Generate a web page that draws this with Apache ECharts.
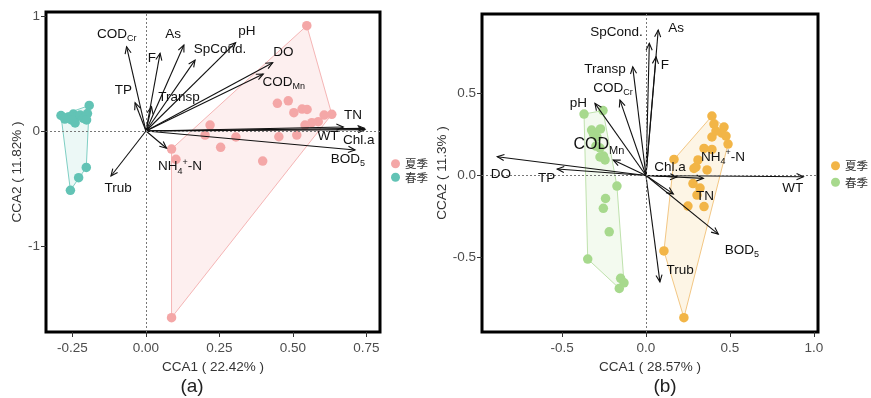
<!DOCTYPE html>
<html><head><meta charset="utf-8">
<script src="https://cdn.jsdelivr.net/npm/echarts@6/dist/echarts.min.js"></script>
<style>html,body{margin:0;padding:0;background:#fff}#c{width:871px;height:398px}</style>
</head><body><div id="c"></div>
<script>
// ---------- Panel (a) ----------
const seasons = ['夏季', '春季'];
const summerA = [[0.547,0.916],[0.447,0.241],[0.484,0.263],[0.503,0.159],[0.531,0.191],[0.548,0.187],
  [0.632,0.145],[0.606,0.139],[0.586,0.081],[0.564,0.072],[0.541,0.052],[0.513,-0.035],[0.452,-0.050],
  [0.218,0.052],[0.201,-0.035],[0.306,-0.052],[0.254,-0.142],[0.397,-0.261],[0.087,-0.157],[0.102,-0.246],
  [0.087,-1.623]];
const springA = [[-0.193,0.222],[-0.289,0.135],[-0.264,0.122],[-0.247,0.148],[-0.236,0.124],[-0.224,0.139],
  [-0.213,0.110],[-0.199,0.152],[-0.202,0.096],[-0.241,0.070],[-0.253,0.096],[-0.276,0.104],
  [-0.203,-0.317],[-0.229,-0.406],[-0.257,-0.516]];
const envNamesA = ['COD_Cr','TP','F','As','SpCond.','Transp','pH','DO','COD_Mn','TN','WT','Chl.a','BOD5','NH4+-N','Trub'];
const envA = [[-0.066,0.733],[-0.037,0.246],[0.048,0.676],[0.129,0.748],[0.167,0.617],[0.019,0.211],
  [0.305,0.768],[0.431,0.594],[0.399,0.496],[0.743,0.023],[0.671,0.035],[0.745,0.012],[0.711,-0.165],
  [0.070,-0.150],[-0.119,-0.391]];
const envLabelAtA = [[-0.099,0.843],[-0.077,0.350],[0.020,0.635],[0.092,0.843],[0.252,0.713],[0.112,0.296],
  [0.343,0.863],[0.467,0.681],[0.469,0.426],[0.704,0.139],[0.619,-0.050],[0.724,-0.078],[0.687,-0.243],
  [0.116,-0.310],[-0.095,-0.496]];
const xTicksA = [-0.25, 0, 0.25, 0.5, 0.75];
const yTicksA = [-1, 0, 1];
const axisNamesA = ['CCA1 ( 22.42% )', 'CCA2 ( 11.82% )'];

// ---------- Panel (b) ----------
const summerB = [[0.393,0.363],[0.405,0.314],[0.465,0.296],[0.453,0.259],[0.477,0.241],[0.393,0.235],
  [0.417,0.271],[0.489,0.192],[0.346,0.165],[0.393,0.159],[0.167,0.098],[0.310,0.095],[0.298,0.052],
  [0.286,0.043],[0.364,0.034],[0.280,-0.049],[0.322,-0.076],[0.304,-0.119],[0.250,-0.186],[0.346,-0.189],
  [0.107,-0.460],[0.226,-0.867]];
const springB = [[-0.369,0.375],[-0.256,0.396],[-0.324,0.277],[-0.271,0.284],[-0.313,0.253],[-0.292,0.235],
  [-0.298,0.180],[-0.274,0.168],[-0.253,0.119],[-0.274,0.113],[-0.244,0.095],[-0.173,-0.064],[-0.241,-0.140],
  [-0.254,-0.200],[-0.219,-0.343],[-0.347,-0.509],[-0.151,-0.627],[-0.131,-0.654],[-0.159,-0.688]];
const envNamesB = ['SpCond.','As','F','Transp','COD_Cr','pH','COD_Mn','DO','TP','Chl.a','NH4+-N','WT','TN','BOD5','Trub'];
const envB = [[0.020,0.806],[0.073,0.887],[0.060,0.724],[-0.079,0.663],[-0.155,0.460],[-0.304,0.440],
  [-0.195,0.095],[-0.886,0.115],[-0.529,0.040],[0.185,-0.009],[0.342,-0.017],[0.938,-0.007],[0.163,-0.112],
  [0.431,-0.357],[0.083,-0.648]];
const envLabelAtB = [[-0.175,0.873],[0.179,0.898],[0.113,0.674],[-0.244,0.649],[-0.197,0.534],[-0.403,0.440],
  [-0.280,0.186],[-0.864,0.007],[-0.592,-0.017],[0.143,0.050],[0.459,0.111],[0.874,-0.078],[0.352,-0.129],
  [0.572,-0.454],[0.203,-0.580]];
const xTicksB = [-0.5, 0, 0.5, 1.0];
const yTicksB = [-0.5, 0, 0.5];
const axisNamesB = ['CCA1 ( 28.57% )', 'CCA2 ( 11.3% )'];

// ---------- styling ----------
const FONT = '"Liberation Sans", Arial, sans-serif';
const colA = {s: '#F4A7A7', w: '#62C3B5', sFill: 'rgba(244,167,167,0.18)', wFill: 'rgba(98,195,181,0.12)', sLine: '#F5B5B5', wLine: '#7FCFC4'};
const colB = {s: '#F2B547', w: '#A7D98D', sFill: 'rgba(242,181,71,0.14)', wFill: 'rgba(167,217,141,0.14)', sLine: '#F3C784', wLine: '#BFE2AD'};
const bigLabelB = {'COD_Mn': 16};

function richText(name) {
  const map = {'COD_Cr': 'COD{s|Cr}', 'COD_Mn': 'COD{s|Mn}', 'BOD5': 'BOD{s|5}', 'NH4+-N': 'NH{s|4}{p|+}-N'};
  return map[name] || name;
}

function hull(pts) {
  const p = pts.slice().sort((a, b) => a[0] - b[0] || a[1] - b[1]);
  const cross = (o, a, b) => (a[0]-o[0])*(b[1]-o[1]) - (a[1]-o[1])*(b[0]-o[0]);
  const lo = [], up = [];
  for (const q of p) { while (lo.length >= 2 && cross(lo[lo.length-2], lo[lo.length-1], q) <= 0) lo.pop(); lo.push(q); }
  for (let i = p.length - 1; i >= 0; i--) { const q = p[i]; while (up.length >= 2 && cross(up[up.length-2], up[up.length-1], q) <= 0) up.pop(); up.push(q); }
  up.pop(); lo.pop();
  return lo.concat(up);
}

function hullSeries(pts, fill, stroke, gi) {
  const h = hull(pts);
  return {
    type: 'custom', xAxisIndex: gi, yAxisIndex: gi, silent: true, z: 1, data: [[0, 0]],
    renderItem: (params, api) => ({
      type: 'polygon', shape: {points: h.map(d => api.coord(d))},
      style: {fill: fill, stroke: stroke, lineWidth: 1}
    })
  };
}

function arrowSeries(vecs, gi) {
  return {
    type: 'custom', xAxisIndex: gi, yAxisIndex: gi, silent: true, z: 4, data: vecs,
    renderItem: (params, api) => {
      const s = api.coord([0, 0]), e = api.coord([api.value(0), api.value(1)]);
      const ang = Math.atan2(e[1] - s[1], e[0] - s[0]);
      const L = 7.5, a = Math.PI / 7.5;
      const p1 = [e[0] - L * Math.cos(ang - a), e[1] - L * Math.sin(ang - a)];
      const p2 = [e[0] - L * Math.cos(ang + a), e[1] - L * Math.sin(ang + a)];
      return {type: 'group', children: [
        {type: 'line', shape: {x1: s[0], y1: s[1], x2: e[0], y2: e[1]}, style: {stroke: '#111', lineWidth: 1.1}},
        {type: 'polyline', shape: {points: [p1, e, p2]}, style: {stroke: '#111', lineWidth: 1.1, fill: null}}
      ]};
    }
  };
}

function labelSeries(names, at, gi, big) {
  return {
    type: 'custom', xAxisIndex: gi, yAxisIndex: gi, silent: true, z: 5,
    data: at.map((d, i) => [d[0], d[1], i]),
    renderItem: (params, api) => {
      const i = api.value(2);
      const nm = names[i];
      const fs = (big && big[nm]) || 13.5;
      const c = api.coord([api.value(0), api.value(1)]);
      return {
        type: 'text', x: c[0], y: c[1],
        style: {
          text: richText(nm), font: fs + 'px ' + FONT, fill: '#111',
          align: 'center', verticalAlign: 'middle', textAlign: 'center', textVerticalAlign: 'middle',
          lineHeight: Math.round(fs * 1.35),
          rich: {
            s: {fontSize: Math.round(fs * 0.68), fontFamily: FONT, fill: '#111', color: '#111', verticalAlign: 'bottom', textVerticalAlign: 'bottom'},
            p: {fontSize: Math.round(fs * 0.68), fontFamily: FONT, fill: '#111', color: '#111', verticalAlign: 'top', textVerticalAlign: 'top'}
          }
        }
      };
    }
  };
}

function scatterSeries(name, pts, color, gi, withZero) {
  const s = {
    type: 'scatter', name: name, xAxisIndex: gi, yAxisIndex: gi, data: pts, z: 3,
    symbolSize: 9.5, itemStyle: {color: color, opacity: 1}, silent: true
  };
  if (withZero) {
    s.markLine = {
      silent: true, symbol: ['none', 'none'], label: {show: false}, animation: false,
      lineStyle: {type: [2, 2], color: '#777', width: 1},
      data: [{xAxis: 0}, {yAxis: 0}]
    };
  }
  return s;
}

function xAxisCfg(gi, min, max, ticks, dec, name) {
  return {
    type: 'value', gridIndex: gi, min: min, max: max, name: name, nameLocation: 'middle', nameGap: 24,
    nameTextStyle: {fontSize: 13.5, fontFamily: FONT, color: '#333'},
    splitLine: {show: false}, axisLine: {show: false, onZero: false},
    axisTick: {show: true, length: 5, lineStyle: {color: '#333'}, customValues: ticks},
    axisLabel: {fontSize: 13.5, fontFamily: FONT, color: '#4D4D4D', margin: 9, customValues: ticks,
      formatter: v => Number(v).toFixed(dec)}
  };
}
function yAxisCfg(gi, min, max, ticks, dec, name, gap) {
  return {
    type: 'value', gridIndex: gi, min: min, max: max, name: name, nameLocation: 'middle', nameGap: gap,
    nameTextStyle: {fontSize: 13.5, fontFamily: FONT, color: '#333'},
    splitLine: {show: false}, axisLine: {show: false, onZero: false},
    axisTick: {show: true, length: 5, lineStyle: {color: '#333'}, customValues: ticks},
    axisLabel: {fontSize: 13.5, fontFamily: FONT, color: '#4D4D4D', margin: 6, customValues: ticks,
      formatter: v => Number(v).toFixed(dec)}
  };
}

const chart = echarts.init(document.getElementById('c'), null, {renderer: 'canvas'});
chart.setOption({
  animation: false,
  backgroundColor: '#fff',
  grid: [
    {left: 46, top: 12, width: 334, height: 320, show: true, borderColor: '#000', borderWidth: 3, backgroundColor: 'transparent'},
    {left: 482, top: 14, width: 336, height: 318, show: true, borderColor: '#000', borderWidth: 3, backgroundColor: 'transparent'}
  ],
  xAxis: [
    xAxisCfg(0, -0.34, 0.796, xTicksA, 2, axisNamesA[0]),
    xAxisCfg(1, -0.977, 1.025, xTicksB, 1, axisNamesB[0])
  ],
  yAxis: [
    yAxisCfg(0, -1.748, 1.035, yTicksA, 0, axisNamesA[1], 20),
    yAxisCfg(1, -0.954, 0.985, yTicksB, 1, axisNamesB[1], 28)
  ],
  legend: [
    {orient: 'vertical', left: 391, top: 158, padding: 0, itemGap: 2, itemWidth: 9, itemHeight: 9, icon: 'circle',
      textStyle: {fontSize: 11.5, fontFamily: '"Noto Sans CJK SC"', color: '#333'},
      data: [{name: seasons[0], itemStyle: {color: colA.s}}, {name: seasons[1], itemStyle: {color: colA.w}}]},
    {orient: 'vertical', left: 831, top: 160, padding: 0, itemGap: 5, itemWidth: 9, itemHeight: 9, icon: 'circle',
      textStyle: {fontSize: 11.5, fontFamily: '"Noto Sans CJK SC"', color: '#333'},
      data: [{name: seasons[0], itemStyle: {color: colB.s}}, {name: seasons[1], itemStyle: {color: colB.w}}]}
  ],
  graphic: [
    {type: 'text', x: 192, y: 387, style: {text: '(a)', font: '19px ' + FONT, fill: '#222', align: 'center', verticalAlign: 'middle', textAlign: 'center', textVerticalAlign: 'middle'}},
    {type: 'text', x: 665, y: 387, style: {text: '(b)', font: '19px ' + FONT, fill: '#222', align: 'center', verticalAlign: 'middle', textAlign: 'center', textVerticalAlign: 'middle'}}
  ],
  series: [
    hullSeries(summerA, colA.sFill, colA.sLine, 0),
    hullSeries(springA, colA.wFill, colA.wLine, 0),
    scatterSeries(seasons[0], summerA, colA.s, 0, true),
    scatterSeries(seasons[1], springA, colA.w, 0, false),
    arrowSeries(envA, 0),
    labelSeries(envNamesA, envLabelAtA, 0, null),
    hullSeries(summerB, colB.sFill, colB.sLine, 1),
    hullSeries(springB, colB.wFill, colB.wLine, 1),
    scatterSeries(seasons[0], summerB, colB.s, 1, true),
    scatterSeries(seasons[1], springB, colB.w, 1, false),
    arrowSeries(envB, 1),
    labelSeries(envNamesB, envLabelAtB, 1, bigLabelB)
  ]
});
</script>
</body></html>
